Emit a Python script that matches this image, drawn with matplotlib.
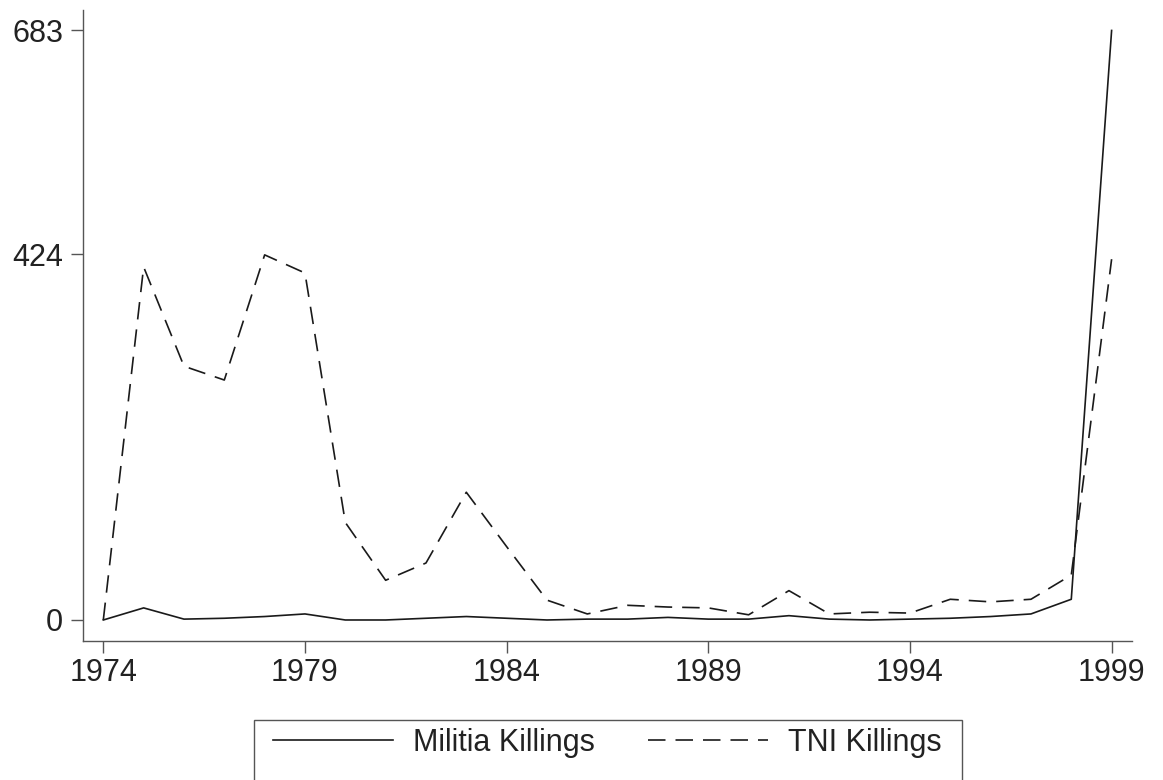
import matplotlib.pyplot as plt
from matplotlib.patches import Rectangle

plt.rcParams['font.family'] = ['Liberation Sans', 'DejaVu Sans']

years = list(range(1974, 2000))
militia = [0, 14, 1, 2, 4, 7, 0, 0, 2, 4, 2, 0, 1, 1, 3, 1, 1, 5, 1, 0, 1, 2, 4, 7, 24, 683]
tni = [0, 409, 294, 278, 423, 402, 113, 46, 66, 148, 85, 23, 7, 17, 15, 14, 6, 34, 7, 9, 8, 24, 21, 24, 52, 418]
xticks = [1974, 1979, 1984, 1989, 1994, 1999]
yticks = [0, 424, 683]

W, H = 1163, 780
fig = plt.figure(figsize=(W / 100, H / 100), dpi=100)
ax = fig.add_axes([82.7 / W, 1 - 640.7 / H, (1131.7 - 82.7) / W, (640.7 - 10) / H])

line_col = '#1a1a1a'
ax.plot(years, militia, color=line_col, lw=1.2, label='Militia Killings')
ax.plot(years, tni, color=line_col, lw=1.2, linestyle=(0, (10.5, 6)), label='TNI Killings')

ax.set_xlim(1973.489, 1999.498)
ax.set_ylim(-24, 706.7)
ax.set_xticks(xticks)
ax.set_yticks(yticks)

for s in ['top', 'right']:
    ax.spines[s].set_visible(False)
for s in ['left', 'bottom']:
    ax.spines[s].set_color('#555555')
    ax.spines[s].set_linewidth(1.0)
ax.tick_params(axis='both', length=8.6, width=1.0, color='#555555', labelsize=22, labelcolor='#222222')
ax.tick_params(axis='x', pad=4)
ax.tick_params(axis='y', pad=5.5)

# legend below the plot, frame drawn separately (box runs off the bottom)
leg = fig.legend(loc='upper center', bbox_to_anchor=(607.7 / W, 1 - 700 / H), ncol=2,
                 frameon=False, fontsize=22, handlelength=3.9, handletextpad=0.68,
                 columnspacing=1.74, borderpad=0.4)
for t in leg.get_texts():
    t.set_color('#222222')
fig.patches.append(Rectangle((253.5 / W, 1 - 790 / H), (962 - 253.5) / W, (790 - 720) / H,
                             transform=fig.transFigure, fill=False, edgecolor='#555555', lw=1.0))

fig.savefig('out.png', dpi=100)
